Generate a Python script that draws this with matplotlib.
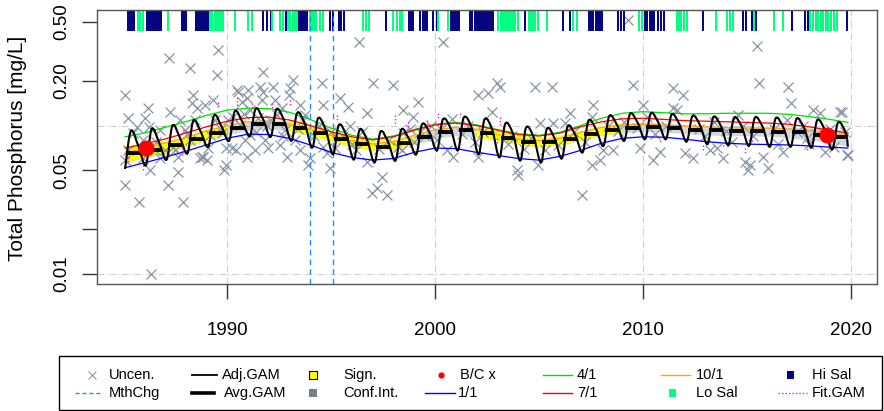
import numpy as np
import matplotlib
matplotlib.use('Agg')
import matplotlib.pyplot as plt
from matplotlib.patches import Rectangle, PathPatch
from matplotlib.path import Path

plt.rcParams['font.family'] = ['Liberation Sans', 'DejaVu Sans']

# ---- observations (decimal year, total phosphorus mg/L)
obs_year = [1985.10, 1985.77, 1986.35, 1985.10, 1987.21, 1988.22, 1989.57, 1989.52, 1987.88, 1987.16,
            1989.86, 1987.64, 1986.20, 1986.06, 1987.26, 1986.25, 1988.37, 1988.32, 1988.56, 1989.33,
            1985.24, 1985.48, 1985.67, 1985.96, 1986.30, 1986.78, 1987.02, 1987.64, 1988.70, 1988.85,
            1989.09, 1988.22, 1987.98, 1987.50, 1986.54, 1985.24, 1985.10, 1989.42, 1989.76, 1989.95,
            1989.95, 1989.18, 1988.46, 1987.74, 1986.78, 1985.96, 1988.94,
            1990.48, 1991.01, 1991.59, 1991.73, 1992.21, 1993.03, 1993.17, 1990.24, 1990.43, 1990.63,
            1990.87, 1991.11, 1991.35, 1991.83, 1992.07, 1992.31, 1992.55, 1992.79, 1993.51, 1993.75,
            1993.27, 1993.51, 1993.89, 1991.11, 1991.49, 1990.05, 1990.72, 1991.68, 1992.64, 1992.98,
            1990.53, 1990.96, 1991.73, 1993.65, 1994.57, 1994.62, 1995.43, 1995.82, 1996.73, 1997.02,
            1997.98, 1993.99, 1994.95, 1996.73, 1997.45, 1997.21, 1997.69, 1996.97, 1995.19, 1994.62,
            1991.97, 1992.88, 1990.96, 1988.80, 1989.04, 1996.35,
            1998.46, 1999.18, 1998.94, 2002.07, 2002.55, 2002.98, 2003.13, 2004.81, 2005.63, 2009.52,
            2011.44, 2011.92, 2007.07, 2003.94, 2003.99, 2004.95, 2002.07, 2000.87, 2007.55, 2007.93,
            2010.48, 2010.82, 2012.02, 2012.40, 2009.86, 2008.56, 2008.08, 2002.74, 2005.67, 2006.25,
            2007.55, 2007.60, 2010.00, 2011.44, 2011.63, 2006.49, 2005.05, 2000.10, 1998.46, 1998.41,
            2000.58, 2000.38,
            2015.58, 2016.97, 2017.12, 2019.47, 2018.17, 2014.57, 2016.92, 2013.85, 2014.90, 2015.14,
            2015.05, 2015.77, 2016.01, 2016.73, 2018.75, 2019.81, 2013.56, 2013.22, 2017.88, 2018.51,
            2019.57, 2009.28, 2015.48,
            2000.30, 2000.80, 2001.30, 2001.60, 2001.90, 2002.30, 2003.50, 2003.70, 2004.30, 2004.60,
            2005.30, 2005.90, 2006.70, 2007.20, 2008.30, 2008.80, 2009.10, 2009.70, 2010.20, 2010.60,
            2011.10, 2012.70, 2013.00, 2013.40, 2014.00, 2014.30, 2014.80, 2015.30, 2016.30, 2016.50,
            2017.40, 2017.70, 2018.00, 2018.30, 2019.00, 2019.20, 2019.70, 2019.85, 1995.60, 1996.00,
            1996.50, 1997.30, 1997.80, 1998.80, 1999.50, 1999.80, 1994.20, 1994.40, 1995.00, 1994.80,
            1986.60, 1987.40, 1988.10, 1989.70, 1990.30, 1990.80, 1991.40, 1991.90, 1992.40, 1992.70,
            1993.40, 1995.90, 1996.20, 1998.20, 1999.00, 1999.30]
obs_tp = [0.0398, 0.0305, 0.0100, 0.1605, 0.285, 0.244, 0.322, 0.219, 0.0305, 0.0398,
          0.0501, 0.0486, 0.1311, 0.1124, 0.1233, 0.098, 0.1605, 0.1417, 0.1311, 0.1485,
          0.1124, 0.0891, 0.0978, 0.0604, 0.0501, 0.0604, 0.0684, 0.0613, 0.0604, 0.0613,
          0.0705, 0.0799, 0.0933, 0.0684, 0.0684, 0.0684, 0.0586, 0.109, 0.0891, 0.0705,
          0.0542, 0.0863, 0.109, 0.109, 0.0933, 0.0799, 0.1374,
          0.1734, 0.1734, 0.1816, 0.229, 0.1816, 0.1788, 0.2026, 0.0705, 0.0684, 0.1008,
          0.0799, 0.0863, 0.0684, 0.0799, 0.109, 0.1485, 0.0739, 0.0933, 0.1374, 0.1177,
          0.0799, 0.0684, 0.0542, 0.1272, 0.1124, 0.109, 0.144, 0.1485, 0.1311, 0.1605,
          0.168, 0.1532, 0.168, 0.109, 0.193, 0.1374, 0.1532, 0.1331, 0.1213, 0.193,
          0.1874, 0.0604, 0.0518, 0.0568, 0.045, 0.038, 0.0341, 0.0351, 0.0705, 0.0716,
          0.0705, 0.0613, 0.0613, 0.0613, 0.0586, 0.365,
          0.1272, 0.144, 0.1142, 0.1605, 0.1654, 0.193, 0.1816, 0.1816, 0.1816, 0.1874,
          0.1788, 0.1605, 0.0341, 0.0501, 0.0464, 0.0542, 0.0613, 0.0613, 0.0542, 0.0586,
          0.0586, 0.0663, 0.0652, 0.0604, 0.0705, 0.0684, 0.0684, 0.1233, 0.1041, 0.1041,
          0.1142, 0.1374, 0.1374, 0.1311, 0.1272, 0.1213, 0.1041, 0.0799, 0.0891, 0.0684,
          0.0684, 0.365,
          0.193, 0.1816, 0.1417, 0.1233, 0.1272, 0.1177, 0.109, 0.0604, 0.0568, 0.0542,
          0.0501, 0.0613, 0.0518, 0.0663, 0.0663, 0.0633, 0.0705, 0.0684, 0.0826, 0.1213,
          0.1233, 0.513, 0.343,
          0.095, 0.11, 0.088, 0.1, 0.078, 0.09, 0.075, 0.085, 0.07, 0.082,
          0.068, 0.074, 0.09, 0.078, 0.1, 0.092, 0.105, 0.097, 0.115, 0.088,
          0.1, 0.095, 0.085, 0.105, 0.092, 0.078, 0.1, 0.085, 0.095, 0.075,
          0.09, 0.1, 0.075, 0.088, 0.095, 0.072, 0.09, 0.0633, 0.085, 0.075,
          0.09, 0.07, 0.08, 0.095, 0.085, 0.1, 0.085, 0.1, 0.09, 0.065,
          0.078, 0.072, 0.088, 0.095, 0.115, 0.12, 0.09, 0.1, 0.118, 0.085,
          0.095, 0.1, 0.068, 0.072, 0.078, 0.09]

# ---- seasonal model lines (1/1, 4/1, 7/1, 10/1) on a yearly grid
line_year = [1985.1] + list(range(1986, 2020)) + [2019.85]
tp_jan = [0.052, 0.056, 0.061, 0.067, 0.074, 0.082, 0.0875, 0.087, 0.082, 0.074,
          0.066, 0.061, 0.0585, 0.060, 0.066, 0.0705, 0.070, 0.066, 0.063, 0.060,
          0.0585, 0.062, 0.068, 0.076, 0.082, 0.084, 0.0835, 0.081, 0.078, 0.076,
          0.075, 0.0745, 0.074, 0.073, 0.0715, 0.0705]
tp_apr = [0.084, 0.089, 0.097, 0.106, 0.117, 0.127, 0.131, 0.130, 0.123, 0.110,
          0.096, 0.086, 0.081, 0.085, 0.094, 0.102, 0.105, 0.101, 0.094, 0.088,
          0.086, 0.090, 0.100, 0.112, 0.121, 0.124, 0.122, 0.120, 0.120, 0.121,
          0.121, 0.121, 0.119, 0.115, 0.110, 0.105]
tp_jul = [0.0705, 0.075, 0.081, 0.089, 0.098, 0.107, 0.113, 0.114, 0.109, 0.100,
          0.091, 0.084, 0.080, 0.084, 0.093, 0.101, 0.104, 0.100, 0.093, 0.087,
          0.085, 0.089, 0.098, 0.106, 0.111, 0.112, 0.110, 0.108, 0.107, 0.106,
          0.105, 0.104, 0.102, 0.098, 0.093, 0.089]
tp_oct = [0.066, 0.070, 0.076, 0.083, 0.092, 0.100, 0.106, 0.107, 0.102, 0.094,
          0.086, 0.079, 0.075, 0.078, 0.086, 0.094, 0.097, 0.094, 0.087, 0.081,
          0.079, 0.082, 0.090, 0.097, 0.101, 0.102, 0.101, 0.099, 0.098, 0.097,
          0.096, 0.096, 0.095, 0.092, 0.088, 0.086]

# confidence band of the trend, same grid
ci_lo = [0.0563, 0.0603, 0.0646, 0.0716, 0.0791, 0.0865, 0.0930, 0.0949, 0.0921, 0.0856,
         0.0781, 0.0716, 0.0679, 0.0688, 0.0744, 0.0818, 0.0856, 0.0837, 0.0791, 0.0744,
         0.0716, 0.0735, 0.0791, 0.0856, 0.0893, 0.0911, 0.0902, 0.0884, 0.0865, 0.0856,
         0.0856, 0.0846, 0.0828, 0.0801, 0.0765, 0.0722]
ci_hi = [0.0723, 0.0744, 0.0781, 0.0828, 0.0914, 0.1000, 0.1075, 0.1097, 0.1064, 0.0989,
         0.0903, 0.0828, 0.0785, 0.0796, 0.0860, 0.0946, 0.0989, 0.0968, 0.0914, 0.0860,
         0.0828, 0.0849, 0.0914, 0.0989, 0.1032, 0.1054, 0.1043, 0.1021, 0.1000, 0.0989,
         0.0989, 0.0978, 0.0977, 0.0964, 0.0944, 0.0927]
sig_from = [1985.1, 1993, 2002]
sig_to = [1990, 1999, 2009]

# ---- adjusted GAM (daily) turning points per year, and annual averages
gam_year = list(range(1985, 2020))
adj_lo = [0.051, 0.054, 0.059, 0.065, 0.072, 0.079, 0.085, 0.084, 0.079, 0.071,
          0.064, 0.059, 0.0565, 0.058, 0.064, 0.068, 0.068, 0.064, 0.061, 0.058,
          0.0565, 0.060, 0.066, 0.073, 0.079, 0.081, 0.081, 0.078, 0.075, 0.074,
          0.073, 0.072, 0.072, 0.071, 0.069]
adj_hi = [0.092, 0.095, 0.100, 0.108, 0.117, 0.125, 0.130, 0.129, 0.122, 0.112,
          0.101, 0.094, 0.091, 0.094, 0.102, 0.110, 0.113, 0.110, 0.103, 0.097,
          0.095, 0.099, 0.108, 0.116, 0.120, 0.121, 0.119, 0.116, 0.114, 0.113,
          0.113, 0.112, 0.111, 0.109, 0.105]
adj_sh = [0.072, 0.076, 0.082, 0.090, 0.098, 0.105, 0.109, 0.108, 0.102, 0.093,
          0.085, 0.079, 0.077, 0.081, 0.089, 0.096, 0.098, 0.094, 0.088, 0.083,
          0.082, 0.086, 0.094, 0.101, 0.104, 0.104, 0.102, 0.100, 0.099, 0.098,
          0.098, 0.097, 0.096, 0.093, 0.089]
avg_gam = [0.065, 0.068, 0.074, 0.081, 0.089, 0.097, 0.102, 0.102, 0.097, 0.089,
           0.081, 0.075, 0.072, 0.076, 0.084, 0.091, 0.093, 0.089, 0.083, 0.078,
           0.077, 0.081, 0.088, 0.094, 0.097, 0.098, 0.096, 0.094, 0.093, 0.092,
           0.092, 0.091, 0.090, 0.087, 0.084]
adj_end = 0.072

# fitted GAM at sample dates (short dotted spans)
fit_year = [1990.48, 1985.24, 1985.96, 1987.84, 1991.20, 1992.16, 1993.03, 1989.57, 1995.29, 1998.08,
            1997.02, 2000.14, 2001.20, 2003.13, 2002.98, 1999.62, 1998.70, 2010.82, 2012.88, 2014.90,
            2015.24, 2017.88, 2013.85]
fit_from = [0.155, 0.0613, 0.0542, 0.0716, 0.1417, 0.1417, 0.1485, 0.144, 0.1177, 0.1177,
            0.0568, 0.1213, 0.1213, 0.1142, 0.0824, 0.109, 0.1057, 0.0799, 0.0739, 0.0705,
            0.0799, 0.0739, 0.0739]
fit_to = [0.127, 0.0559, 0.0501, 0.0633, 0.1272, 0.1272, 0.1331, 0.1311, 0.1057, 0.1008,
          0.053, 0.1124, 0.1142, 0.1008, 0.0739, 0.1008, 0.0933, 0.0774, 0.0663, 0.0633,
          0.0774, 0.0684, 0.0705]

# back-calculated points
bc_year = [1986.1, 2018.85]
bc_tp = [0.0705, 0.0863]

# sample dates by salinity class (rug along the top)
hi_sal = [1985.25, 1985.33, 1985.42, 1985.55,
          1986.15, 1986.25, 1986.33, 1986.42, 1986.5, 1986.58, 1986.67, 1986.75, 1986.85,
          1987.85, 1987.95, 1988.05,
          1988.5, 1988.6, 1988.7, 1988.8, 1988.9, 1989.0, 1989.08,
          1991.75, 1991.9, 1992.12, 1992.84,
          1993.45, 1993.55, 1993.65, 1993.75, 1993.85,
          1994.95, 1995.08, 1995.4, 1995.5, 1995.62, 1997.64,
          1998.75, 1998.85, 1998.95, 1999.3, 1999.4, 1999.5, 1999.6, 1999.92, 2000.08,
          2000.75, 2000.85, 2000.95, 2001.05, 2001.15,
          2001.7, 2001.8, 2001.9, 2002.0, 2002.1, 2002.2, 2002.3, 2002.4, 2002.5, 2002.6, 2002.7, 2002.8,
          2004.35, 2006.15, 2006.49,
          2007.4, 2007.5, 2007.6, 2007.75, 2007.85, 2007.95, 2008.05,
          2008.8, 2008.95, 2009.1,
          2010.1, 2010.2, 2010.35, 2010.45, 2010.55, 2010.7, 2010.85, 2011.0,
          2012.88, 2014.82, 2014.95, 2015.25, 2015.45, 2017.16, 2017.8, 2017.95, 2019.83]
lo_sal = [1985.7, 1985.8, 1985.95, 1987.15,
          1989.2, 1989.3, 1989.4, 1989.5, 1989.6, 1989.7, 1989.8,
          1990.4, 1991.0, 1991.2, 1992.16, 1992.55, 1992.68,
          1992.95, 1993.05, 1993.15, 1993.25, 1993.35,
          1994.0, 1994.1, 1994.2, 1994.3, 1994.45, 1994.6,
          1996.55, 1996.7, 1996.85, 1998.0, 1998.15, 1998.3, 1998.4, 2000.15, 2000.62,
          2003.05, 2003.15, 2003.25, 2003.35, 2003.45, 2003.55, 2003.65, 2003.75, 2003.85, 2004.0,
          2004.5, 2004.6, 2004.7, 2004.8, 2004.95, 2005.38, 2006.65, 2006.85, 2009.8, 2009.95,
          2011.65, 2011.75, 2011.85, 2011.95, 2012.1, 2013.51, 2014.05, 2014.2, 2014.32,
          2015.34, 2016.3, 2016.73,
          2018.05, 2018.15, 2018.3, 2018.4, 2018.55, 2018.65, 2018.8, 2018.9, 2019.05, 2019.2, 2019.35]

mth_chg = [1994.0, 1995.1]


def smooth_path(xs, ys):
    """Catmull-Rom style Bezier path through the points (log space for y)."""
    x = np.asarray(xs, float)
    ly = np.log10(ys)
    verts = [(x[0], ys[0])]
    codes = [Path.MOVETO]
    n = len(x)
    for i in range(n - 1):
        i0, i2, i3 = max(i - 1, 0), i + 1, min(i + 2, n - 1)
        c1x = x[i] + (x[i2] - x[i0]) / 6
        c1y = ly[i] + (ly[i2] - ly[i0]) / 6
        c2x = x[i2] - (x[i3] - x[i]) / 6
        c2y = ly[i2] - (ly[i3] - ly[i]) / 6
        verts += [(c1x, 10 ** c1y), (c2x, 10 ** c2y), (x[i2], ys[i2])]
        codes += [Path.CURVE4] * 3
    return Path(verts, codes)


# ---- figure
fig = plt.figure(figsize=(8.84, 4.11), dpi=100)
ax = fig.add_axes([97 / 884, 1 - 284 / 411, 780 / 884, 274 / 411])
ax.set_yscale('log')
ax.set_xlim(1983.75, 2021.25)
ax.set_ylim(0.00857, 0.6)

grid_kw = dict(color='#d0d0d0', lw=0.8, ls=(0, (6, 2, 1, 2)), zorder=0)
for gx in [1990, 2000, 2010, 2020]:
    ax.axvline(gx, **grid_kw)
for gy in [0.01, 0.1]:
    ax.axhline(gy, **grid_kw)

# confidence interval and significant periods
ax.fill_between(line_year, ci_lo, ci_hi, color='#708090', alpha=0.3, lw=0, zorder=1)
ly = np.array(line_year)
sig_mask = np.zeros(len(ly), dtype=bool)
for a, b in zip(sig_from, sig_to):
    sig_mask |= (ly >= a) & (ly <= b)
ax.fill_between(line_year, ci_lo, ci_hi, where=sig_mask, color='#ffff00', lw=0, zorder=1.5)

ax.plot(obs_year, obs_tp, 'x', color='#8796a6', ms=7, mew=0.9, zorder=2)

ax.plot(line_year, tp_jan, color='#0000ff', lw=0.9, zorder=3)
ax.plot(line_year, tp_apr, color='#00e000', lw=0.9, zorder=3)
ax.plot(line_year, tp_oct, color='#ffa500', lw=0.9, zorder=3)
ax.plot(line_year, tp_jul, color='#ff0000', lw=0.9, zorder=3)

# adjusted GAM: winter trough, spring peak, autumn shoulder each year
adj_t, adj_v = [], []
for y, lo, hi, sh in zip(gam_year, adj_lo, adj_hi, adj_sh):
    adj_t += [y + 0.1, y + 0.38, y + 0.75]
    adj_v += [lo, hi, sh]
adj_t.append(2019.85)
adj_v.append(adj_end)
ax.add_patch(PathPatch(smooth_path(adj_t, adj_v), fc='none', ec='black', lw=1.5, zorder=4))

for y, v in zip(gam_year, avg_gam):
    ax.plot([y + 0.15, y + 0.85], [v, v], color='black', lw=2.8, solid_capstyle='butt', zorder=4)

ax.vlines(fit_year, fit_from, fit_to, colors='#ff00ff', lw=1, linestyles=(0, (1, 1.5)), zorder=5)

ax.plot(bc_year, bc_tp, 'o', color='#ff0000', ms=11.5, mec='none', zorder=6)

ax.vlines(hi_sal, 0.433, 0.6, colors='#000080', lw=1.4, zorder=2)
ax.vlines(lo_sal, 0.433, 0.6, colors='#00ff7f', lw=1.4, zorder=2)

for mx in mth_chg:
    ax.axvline(mx, color='#1e90ff', lw=1, ls=(0, (4, 3)), zorder=2)

# axes styling
for s in ax.spines.values():
    s.set_color('#555555')
    s.set_linewidth(1)
ax.set_xticks([1990, 2000, 2010, 2020])
ax.set_xticklabels(['1990', '2000', '2010', '2020'])
ax.set_yticks([0.01, 0.02, 0.05, 0.2, 0.5])
ax.set_yticklabels(['0.01', '', '0.05', '0.20', '0.50'])
ax.yaxis.set_minor_locator(matplotlib.ticker.NullLocator())
ax.tick_params(axis='x', length=10.5, width=1, colors='#333333', labelcolor='black',
               labelsize=13.5, pad=17)
ax.tick_params(axis='y', length=10.5, width=1, colors='#333333', labelcolor='black',
               labelsize=13.5, pad=9, labelrotation=90)
for lab in ax.get_yticklabels():
    lab.set_verticalalignment('center')

fig.text(18 / 884, 1 - 148 / 411, 'Total Phosphorus [mg/L]', rotation=90,
         ha='center', va='center', fontsize=15)

# legend panel drawn in pixel coordinates
lg = fig.add_axes([0, 0, 1, 1], facecolor='none')
lg.set_xlim(0, 884)
lg.set_ylim(411, 0)
lg.axis('off')
lg.add_patch(Rectangle((59, 356), 823, 54, fill=False, ec='black', lw=1))
r1, r2 = 375, 393
fs = 10.5
lg.plot([92], [r1], 'x', color='#999999', ms=6, mew=0.8)
lg.plot([75, 103], [r2, r2], color='#1e90ff', lw=1, ls=(0, (3, 2)))
lg.plot([192, 217], [r1, r1], color='black', lw=1.3)
lg.plot([192, 214], [r2, r2], color='black', lw=2.6)
lg.add_patch(Rectangle((309, r1 - 4), 8, 8, fc='#ffff00', ec='black', lw=0.8))
lg.add_patch(Rectangle((309, r2 - 4), 8, 8, fc='#708090', ec='none'))
lg.plot([441], [r1], 'o', color='#ff0000', ms=4.5, mec='none')
lg.plot([425, 455], [r2, r2], color='#0000ff', lw=1)
lg.plot([543, 572], [r1, r1], color='#00e000', lw=1)
lg.plot([543, 572], [r2, r2], color='#ff0000', lw=1)
lg.plot([661, 690], [r1, r1], color='#ffa500', lw=1)
lg.add_patch(Rectangle((669, r2 - 4), 7, 8, fc='#00ff7f', ec='none'))
lg.add_patch(Rectangle((787, r1 - 4), 7, 8, fc='#000080', ec='none'))
lg.plot([778, 807], [r2, r2], color='#ff00ff', lw=1, ls=(0, (1, 1.5)))
texts = [(109, r1, 'Uncen.'), (109, r2, 'MthChg'), (222, r1, 'Adj.GAM'), (224, r2, 'Avg.GAM'),
         (343, r1, 'Sign.'), (343, r2, 'Conf.Int.'), (460, r1, 'B/C x'), (458, r2, '1/1'),
         (577, r1, '4/1'), (577, r2, '7/1'), (696, r1, '10/1'), (696, r2, 'Lo Sal'),
         (812, r1, 'Hi Sal'), (812, r2, 'Fit.GAM')]
for tx, ty, s in texts:
    lg.text(tx, ty, s, fontsize=fs, ha='left', va='center')

fig.savefig('out.png', dpi=100)
